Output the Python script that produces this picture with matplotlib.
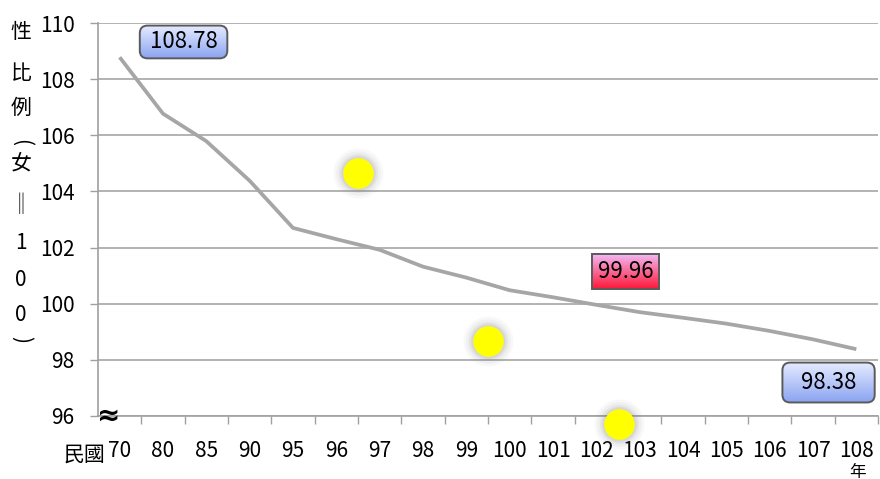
import numpy as np
import matplotlib
matplotlib.use("Agg")
import matplotlib.pyplot as plt
from matplotlib.colors import LinearSegmentedColormap

plt.rcParams['font.family'] = ['Noto Sans CJK TC', 'DejaVu Sans']

# data
years = ['70', '80', '85', '90', '95', '96', '97', '98', '99', '100',
         '101', '102', '103', '104', '105', '106', '107', '108']
sex_ratio = [108.78, 106.77, 105.79, 104.38, 102.70, 102.30, 101.92, 101.32,
             100.93, 100.48, 100.23, 99.96, 99.70, 99.50, 99.29, 99.03, 98.73, 98.38]
labelled = [0, 11, 17]  # points that get a value box
yticks = [96, 98, 100, 102, 104, 106, 108, 110]
# decorative yellow dots (category index, value)
dot_x = [5.5, 8.5, 11.52]
dot_y = [104.67, 98.66, 95.70]
# vertical y label: (char, rotation)
ylabel_chars = [('性', 0), ('比', 0), ('例', 0), ('(', 270), ('女', 0),
                ('‖', 0), ('1', 0), ('0', 0), ('0', 0), (')', 270)]

W, H = 880, 479
fig = plt.figure(figsize=(W / 100, H / 100), dpi=100)
ax = fig.add_axes([98 / W, 1 - 416 / H, 780 / W, 393 / H])

x = np.arange(len(years))
ax.plot(x, sex_ratio, color='#A6A6A6', lw=2.7, solid_capstyle='butt', zorder=3)

ax.set_xlim(-0.5, len(years) - 0.5)
ax.set_ylim(96, 110)
ax.set_yticks(yticks)
ax.set_yticklabels([str(v) for v in yticks], fontsize=15)
ax.set_xticks(x)
ax.set_xticklabels(years, fontsize=15)
ax.tick_params(axis='x', length=0, pad=17)
ax.set_xticks(np.arange(0.5, len(years)), minor=True)
ax.tick_params(axis='x', which='minor', length=6, color='#A0A0A0', width=1)
ax.tick_params(axis='y', length=6, color='#A0A0A0', width=1, pad=11)
ax.grid(axis='y', color='#A6A6A6', lw=1.2)
ax.set_axisbelow(True)
for s in ['top', 'right']:
    ax.spines[s].set_visible(False)
for s in ['left', 'bottom']:
    ax.spines[s].set_color('#A0A0A0')
    ax.spines[s].set_linewidth(1.2)

# yellow dots with soft gray glow
for r, a in [(36, 0.05), (32, 0.07), (28, 0.10), (25, 0.13)]:
    ax.scatter(dot_x, dot_y, s=r ** 2, color='#808080', alpha=a, lw=0,
               zorder=4, clip_on=False)
ax.scatter(dot_x, dot_y, s=22 ** 2, color='#FFFF00', lw=0, zorder=5, clip_on=False)

# value boxes
box_specs = {
    0: dict(off=(46, 11), fmt=' {} ', style='round,pad=0.22,rounding_size=0.35',
            cmap=['#E6ECFF', '#8CA5F2']),
    11: dict(off=(21, 24), fmt='{}', style='square,pad=0.25',
             cmap=['#F2B8F4', '#FF1838']),
    17: dict(off=(-20, -24), fmt='  {}  ', style='round,pad=0.38,rounding_size=0.35',
             cmap=['#E6ECFF', '#8CA5F2']),
}
texts = []
for i in labelled:
    spec = box_specs[i]
    t = ax.annotate(spec['fmt'].format(f'{sex_ratio[i]:.2f}'), (x[i], sex_ratio[i]),
                    xytext=spec['off'], textcoords='offset points',
                    ha='center', va='center', fontsize=16, zorder=8,
                    bbox=dict(boxstyle=spec['style'], fc='none', ec='#5A5A5A', lw=1.4),
                    annotation_clip=False)
    texts.append((t, spec))

fig.canvas.draw()
inv = ax.transData.inverted()
for t, spec in texts:
    patch = t.get_bbox_patch()
    ext = patch.get_window_extent()
    (x0, y0), (x1, y1) = inv.transform([[ext.x0, ext.y0], [ext.x1, ext.y1]])
    grad = np.linspace(0, 1, 100).reshape(-1, 1)
    cm = LinearSegmentedColormap.from_list('g', spec['cmap'])
    im = ax.imshow(grad, cmap=cm, extent=[x0, x1, y0, y1], origin='upper',
                   aspect='auto', zorder=7, interpolation='bilinear')
    im.set_clip_path(patch.get_path(), patch.get_transform())
ax.set_xlim(-0.5, len(years) - 0.5)
ax.set_ylim(96, 110)

# axis-break mark
ax.text(0.013, 0.0, '≈', transform=ax.transAxes, fontsize=20, fontweight='bold',
        ha='center', va='center', family=['DejaVu Sans'], zorder=9, clip_on=False)

# vertical y label, one character per line
ylabel_pos = [32, 73, 108, 142, 164, 205, 243, 280, 315, 340]
for (ch, rot), yp in zip(ylabel_chars, ylabel_pos):
    fig.text(21 / W, 1 - yp / H, ch, fontsize=15, ha='center', va='center',
             rotation=rot)

fig.text(84 / W, 1 - 455 / H, '民國', fontsize=15, ha='center', va='center')
fig.text(858 / W, 1 - 472 / H, '年', fontsize=12, ha='center', va='center')

fig.savefig('out.png', dpi=100)
